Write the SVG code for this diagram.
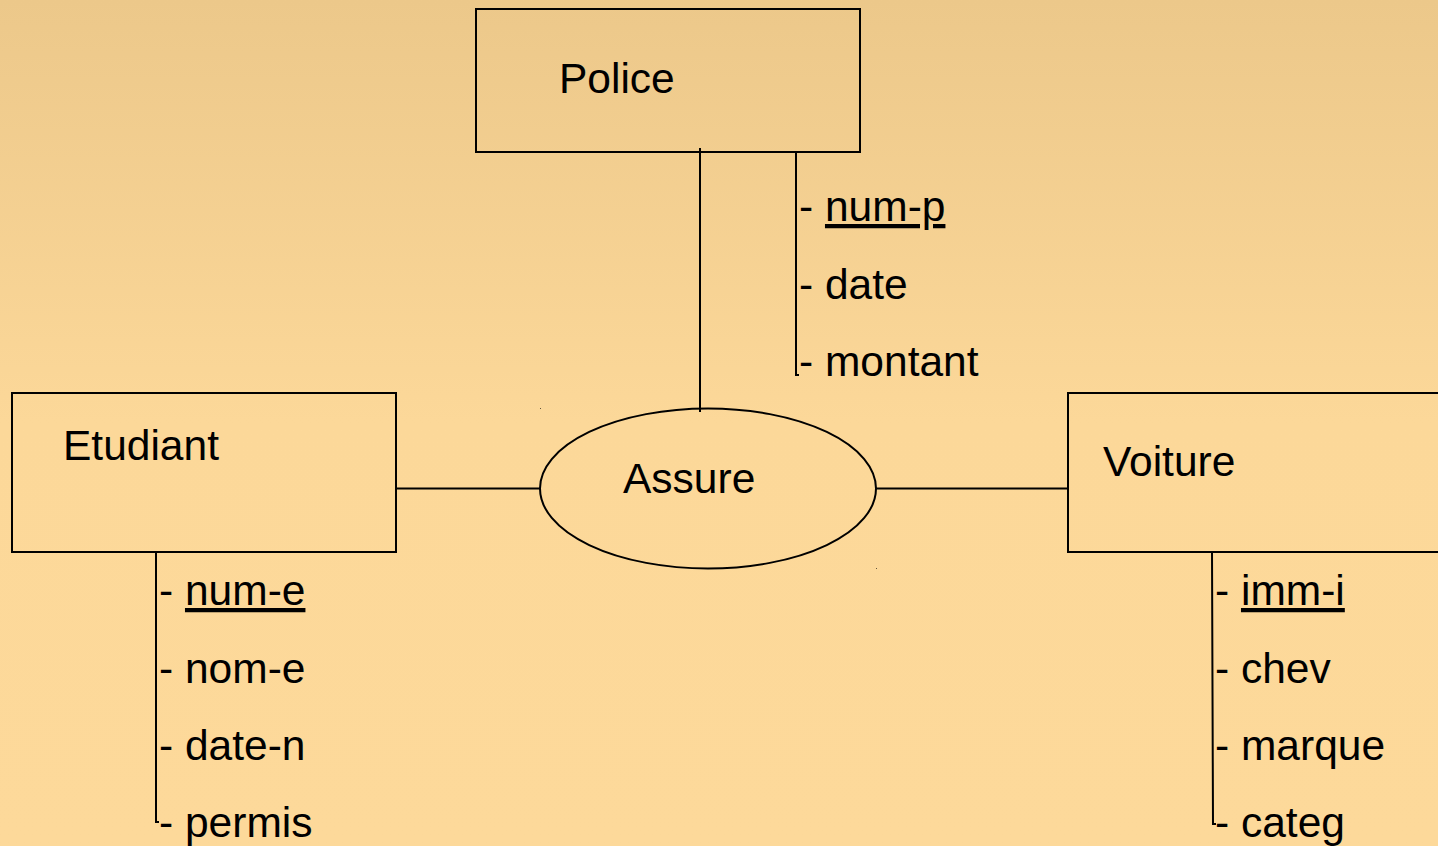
<svg xmlns="http://www.w3.org/2000/svg" width="1438" height="846" viewBox="0 0 1438 846">
  <defs>
    <linearGradient id="bg" x1="0" y1="0" x2="0" y2="1">
      <stop offset="0" stop-color="#ECC88A"/>
      <stop offset="0.5" stop-color="#FCD899"/>
      <stop offset="1" stop-color="#FDD99A"/>
    </linearGradient>
  </defs>
  <style>
    .box { fill: none; stroke: #000; stroke-width: 2; }
    .ln { fill: none; stroke: #000; stroke-width: 2; }
    .t { font-family: "Liberation Sans", Arial, sans-serif; font-size: 42.5px; fill: #000; }
    .key { text-decoration: underline; }
  </style>

  <rect x="0" y="0" width="1438" height="846" fill="url(#bg)"/>

  <!-- connectors -->
  <g id="connectors">
    <line class="ln" x1="700" y1="148" x2="700" y2="412"/>
    <line class="ln" x1="396" y1="488.5" x2="540" y2="488.5"/>
    <line class="ln" x1="876" y1="488.5" x2="1068" y2="488.5"/>
  </g>

  <!-- entity: Police -->
  <g id="police">
    <rect class="box" x="476" y="9" width="384" height="143"/>
    <text class="t" x="559" y="93">Police</text>
    <polyline class="ln" points="796,152 796,375 799,375"/>
    <text class="t" x="799" y="221">- <tspan class="key">num-p</tspan></text>
    <text class="t" x="799" y="299">- date</text>
    <text class="t" x="799" y="376">- montant</text>
  </g>

  <!-- relationship: Assure -->
  <g id="assure">
    <ellipse class="box" cx="708" cy="488.5" rx="168" ry="80"/>
    <text class="t" x="623" y="493">Assure</text>
    <rect x="540" y="408" width="1" height="1" fill="#000" opacity="0.6"/>
    <rect x="876" y="568" width="1" height="1" fill="#000" opacity="0.6"/>
  </g>

  <!-- entity: Etudiant -->
  <g id="etudiant">
    <rect class="box" x="12" y="393" width="384" height="159"/>
    <text class="t" x="63" y="460">Etudiant</text>
    <polyline class="ln" points="156,552 156,822 159,822"/>
    <text class="t" x="159" y="605">- <tspan class="key">num-e</tspan></text>
    <text class="t" x="159" y="683">- nom-e</text>
    <text class="t" x="159" y="760">- date-n</text>
    <text class="t" x="159" y="837">- permis</text>
  </g>

  <!-- entity: Voiture -->
  <g id="voiture">
    <rect class="box" x="1068" y="393" width="380" height="159"/>
    <text class="t" x="1103" y="476">Voiture</text>
    <polyline class="ln" points="1212,552 1213,824 1216,824"/>
    <text class="t" x="1215" y="605">- <tspan class="key">imm-i</tspan></text>
    <text class="t" x="1215" y="683">- chev</text>
    <text class="t" x="1215" y="760">- marque</text>
    <text class="t" x="1215" y="837">- categ</text>
  </g>
</svg>
